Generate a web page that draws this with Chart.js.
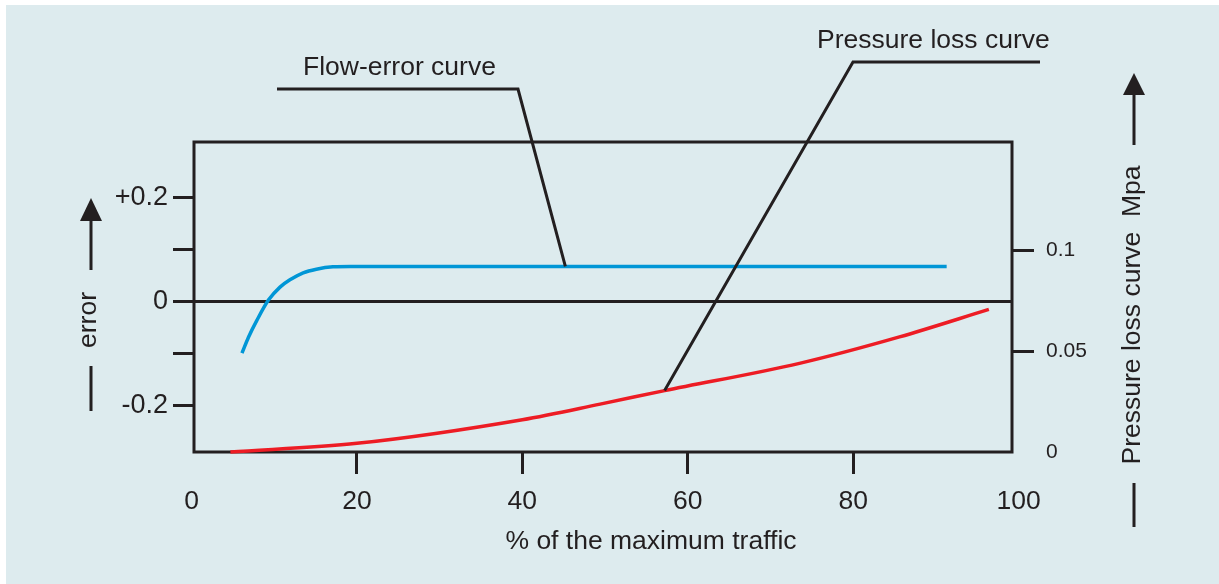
<!DOCTYPE html>
<html>
<head>
<meta charset="utf-8">
<script src="https://cdn.jsdelivr.net/npm/chart.js@4"></script>
<style>
  html, body { margin: 0; padding: 0; background: #fff; }
  canvas { display: block; }
</style>
</head>
<body>
<canvas id="grafica" width="1219" height="584"></canvas>
<script>
// Datos: % del caudal máximo contra error y pérdida de presión.
const FLOW_X = [6.1, 6.9, 7.9, 9.3, 10.7, 11.9, 13.5, 15.1, 17.1, 19.2, 91.3];
const FLOW_ERROR = [-0.1, -0.069, -0.037, 0.002, 0.027, 0.041, 0.0545, 0.0615, 0.066, 0.0667, 0.0667];
const PRESS_X = [4.7, 20, 40, 49.4, 57.2, 73.5, 85.6, 96.4];
const PRESS_MPA = [0, 0.0043, 0.016, 0.0237, 0.0304, 0.0439, 0.057, 0.0706];

const X_TICKS = [0, 20, 40, 60, 80, 100];
const ERROR_TICKS = [-0.2, -0.1, 0, 0.1, 0.2];
const ERROR_LABELS = { '-0.2': '-0.2', '0': '0', '0.2': '+0.2' };
const MPA_TICKS = [0, 0.05, 0.1];

const FLOW_LABEL_AT = 45.2; // x del punto donde llega la línea del rótulo azul
const PRESS_LABEL_IDX = 4;  // índice del punto rojo donde llega su rótulo

const INK = '#231f20';
const FONDO = '#ddebee';
const AZUL = '#0096d6';
const ROJO = '#ed1c24';
const FUENTE = '"Liberation Sans", Arial, sans-serif';
const SIN_COLOR = 'rgba(0,0,0,0)';

const fondoPlugin = {
  id: 'fondo',
  beforeDraw(chart) {
    const { ctx } = chart;
    ctx.save();
    ctx.fillStyle = FONDO;
    ctx.fillRect(6, 5, chart.width - 6, chart.height - 5);
    ctx.restore();
  },
};

// marco, línea del cero, títulos con flechas y rótulos con líneas guía
const decoPlugin = {
  id: 'deco',
  beforeDatasetsDraw(chart) {
    const { ctx, chartArea: a, scales } = chart;
    ctx.save();
    ctx.strokeStyle = INK;
    ctx.lineWidth = 3;
    ctx.strokeRect(a.left, a.top, a.right - a.left, a.bottom - a.top);
    const y0 = Math.round(scales.y.getPixelForValue(0)) + 0.5;
    ctx.beginPath();
    ctx.moveTo(a.left, y0);
    ctx.lineTo(a.right, y0);
    ctx.stroke();
    ctx.restore();
  },
  afterDatasetsDraw(chart) {
    const { ctx, scales } = chart;
    ctx.save();
    ctx.fillStyle = INK;
    ctx.strokeStyle = INK;
    ctx.font = '26.5px ' + FUENTE;

    const flecha = (x, tip, base, fin, abajo1, abajo2) => {
      ctx.lineWidth = 3;
      ctx.beginPath();
      ctx.moveTo(x, fin);
      ctx.lineTo(x, base);
      ctx.moveTo(x, abajo1);
      ctx.lineTo(x, abajo2);
      ctx.stroke();
      ctx.beginPath();
      ctx.moveTo(x, tip);
      ctx.lineTo(x - 11, base);
      ctx.lineTo(x + 11, base);
      ctx.closePath();
      ctx.fill();
    };
    const vertical = (texto, x, y) => {
      ctx.save();
      ctx.translate(x, y);
      ctx.rotate(-Math.PI / 2);
      ctx.textAlign = 'center';
      ctx.textBaseline = 'middle';
      ctx.fillText(texto, 0, 0);
      ctx.restore();
    };

    flecha(91, 198, 221, 270, 366, 411);
    vertical('error', 89, 320);
    flecha(1134, 73, 95, 145, 483, 527);
    vertical('Pressure loss curve  Mpa', 1133, 315);

    ctx.textAlign = 'center';
    ctx.textBaseline = 'alphabetic';
    ctx.fillText('% of the maximum traffic', 651, 549);

    ctx.textAlign = 'left';
    ctx.fillText('Flow-error curve', 303, 75);
    ctx.fillText('Pressure loss curve', 817, 48);

    ctx.lineWidth = 3;
    const fx = scales.x.getPixelForValue(FLOW_LABEL_AT);
    const fy = scales.y.getPixelForValue(FLOW_ERROR[FLOW_ERROR.length - 1]);
    ctx.beginPath();
    ctx.moveTo(277, 89);
    ctx.lineTo(518, 89);
    ctx.lineTo(fx, fy);
    ctx.stroke();

    const p = chart.getDatasetMeta(1).data[PRESS_LABEL_IDX];
    ctx.beginPath();
    ctx.moveTo(1040, 62);
    ctx.lineTo(853, 62);
    ctx.lineTo(p.x, p.y);
    ctx.stroke();
    ctx.restore();
  },
};

const fijarTicks = (valores) => (scale) => {
  scale.ticks = valores.map((v) => ({ value: v }));
};

new Chart(document.getElementById('grafica'), {
  type: 'line',
  data: {
    datasets: [
      {
        label: 'Flow-error curve',
        data: FLOW_X.map((x, i) => ({ x, y: FLOW_ERROR[i] })),
        borderColor: AZUL,
        borderWidth: 3.5,
        pointRadius: 0,
        cubicInterpolationMode: 'monotone',
        yAxisID: 'y',
      },
      {
        label: 'Pressure loss curve',
        data: PRESS_X.map((x, i) => ({ x, y: PRESS_MPA[i] })),
        borderColor: ROJO,
        borderWidth: 3.5,
        pointRadius: 0,
        cubicInterpolationMode: 'monotone',
        yAxisID: 'y2',
        clip: 4,
      },
    ],
  },
  options: {
    responsive: false,
    animation: false,
    layout: { padding: { top: 142, left: 0, right: 0, bottom: 0 } },
    plugins: { legend: { display: false }, tooltip: { enabled: false } },
    scales: {
      x: {
        type: 'linear',
        min: 0.3,
        max: 99.2,
        afterBuildTicks: fijarTicks(X_TICKS),
        afterFit: (s) => { s.height = 132; },
        border: { display: false },
        grid: {
          drawOnChartArea: false,
          tickLength: 22,
          tickWidth: 3,
          // sin marca en 0 y 100: caen fuera del marco
          tickColor: (c) => (c.tick && (c.tick.value === 0 || c.tick.value === 100) ? SIN_COLOR : INK),
        },
        ticks: {
          autoSkip: false,
          maxRotation: 0,
          padding: 12,
          color: INK,
          font: { family: FUENTE, size: 26.5 },
          callback: (v) => String(v),
        },
      },
      y: {
        type: 'linear',
        position: 'left',
        min: -0.29,
        max: 0.306,
        afterBuildTicks: fijarTicks(ERROR_TICKS),
        afterFit: (s) => { s.width = 194; },
        border: { display: false },
        grid: { drawOnChartArea: false, tickLength: 21, tickWidth: 3, tickColor: INK },
        ticks: {
          autoSkip: false,
          padding: 5,
          color: INK,
          font: { family: FUENTE, size: 27 },
          callback: (v) => ERROR_LABELS[String(Math.round(v * 10) / 10)] || '',
        },
      },
      y2: {
        type: 'linear',
        position: 'right',
        min: 0,
        max: 0.1535,
        afterBuildTicks: fijarTicks(MPA_TICKS),
        afterFit: (s) => { s.width = 207; },
        border: { display: false },
        grid: {
          drawOnChartArea: false,
          tickLength: 22,
          tickWidth: 3,
          tickColor: (c) => (c.tick && c.tick.value === 0 ? SIN_COLOR : INK),
        },
        ticks: {
          autoSkip: false,
          padding: 12,
          color: INK,
          font: { family: FUENTE, size: 21 },
          callback: (v) => String(v),
        },
      },
    },
  },
  plugins: [fondoPlugin, decoPlugin],
});
</script>
</body>
</html>
